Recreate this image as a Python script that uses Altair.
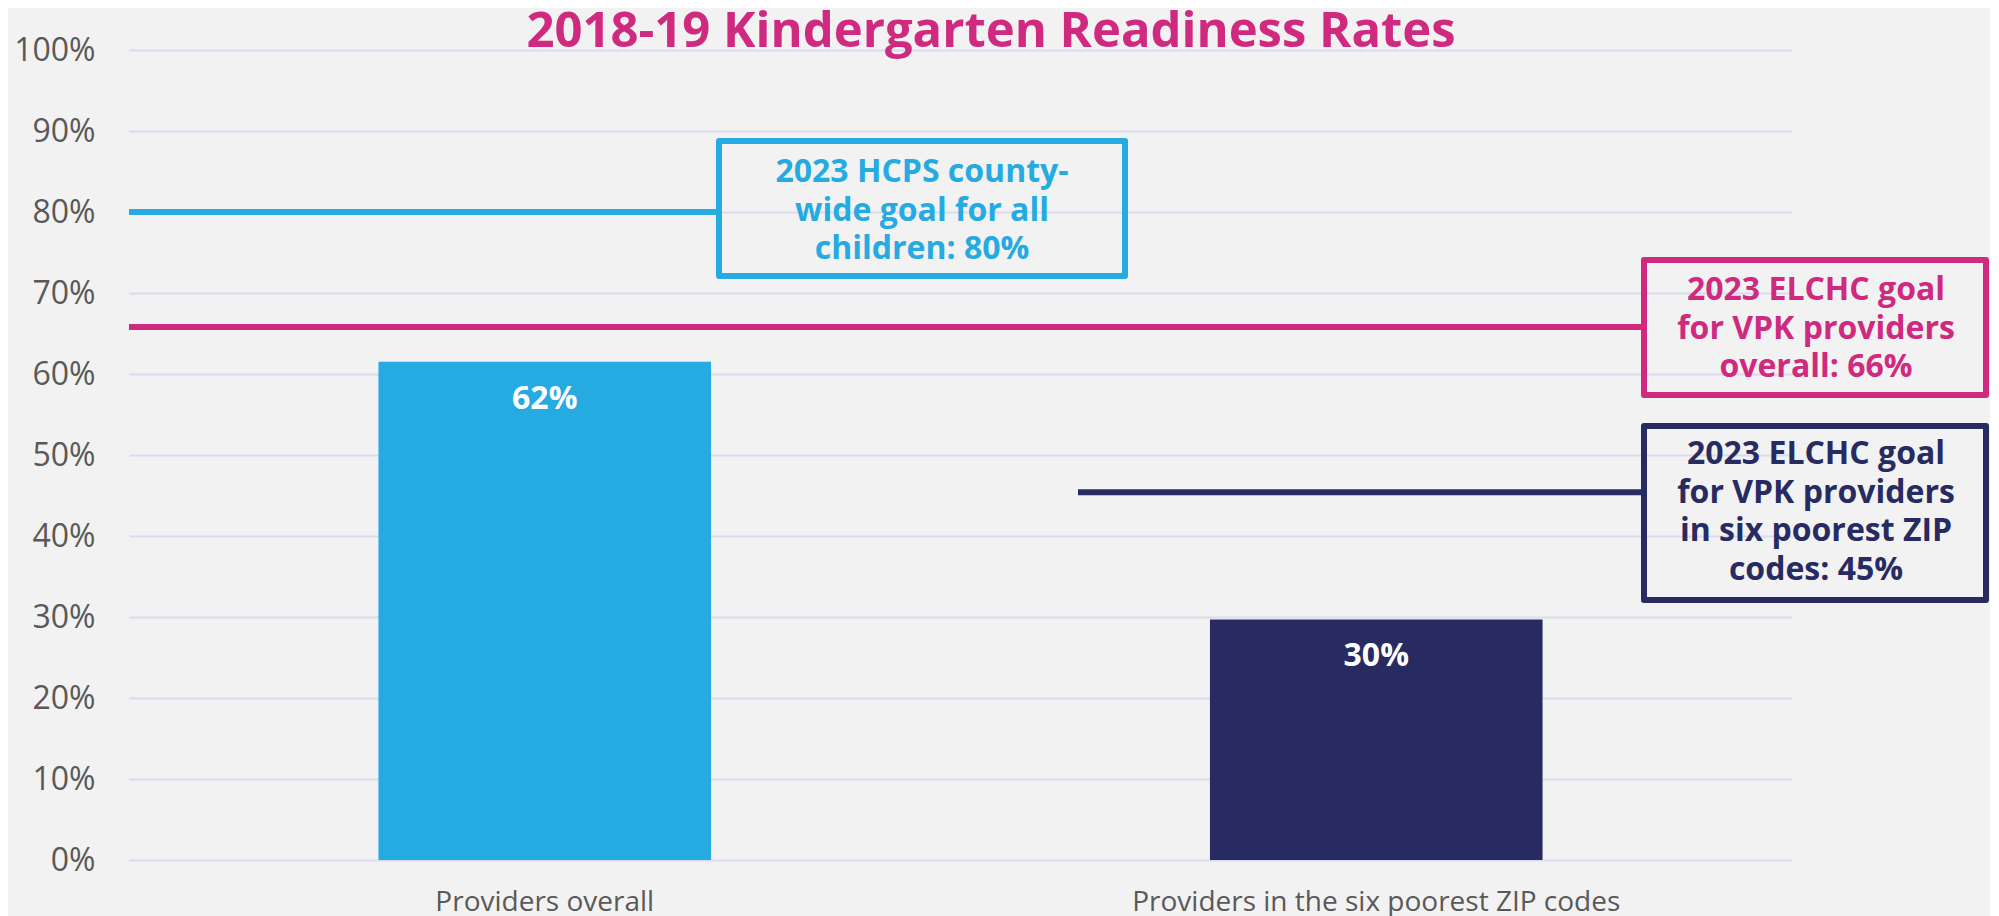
import altair as alt
import pandas as pd

# ---------------- data ----------------
title_text = "2018-19 Kindergarten Readiness Rates"
categories = ["Providers overall", "Providers in the six poorest ZIP codes"]
rates = [61.5, 29.7]
rate_labels = ["62%", "30%"]
bar_colors = ["#25AAE1", "#282B62"]

goal_values = [80, 65.8, 45.4]
goal_texts = [
    ["2023 HCPS county-", "wide goal for all", "children: 80%"],
    ["2023 ELCHC goal", "for VPK providers", "overall: 66%"],
    ["2023 ELCHC goal", "for VPK providers", "in six poorest ZIP", "codes: 45%"],
]
goal_colors = ["#25AAE1", "#CF2A80", "#282B62"]
y_ticks = list(range(0, 101, 10))

# ---------------- styling / layout ----------------
BG = "#F2F2F2"
GRAY = "#595959"
MAGENTA = "#CF2A80"
FONT = "Open Sans"
W, H = 1663, 810

rule_px = [(0, 587), (0, 1512), (949, 1512)]
box_px = [(590, 996, 91, 226), (1515, 1857, 210, 345), (1515, 1857, 376, 550)]
text_px = [(793, 132), (1687, 250), (1687, 414)]

bars_df = pd.DataFrame({"category": categories, "rate": rates,
                        "label": rate_labels, "color": bar_colors})

y_scale = alt.Scale(domain=[0, 100], nice=False)
x_scale = alt.Scale(paddingInner=0.6, paddingOuter=0.3)

x_axis = alt.Axis(title=None, labelAngle=0, labelFontSize=28,
                  labelColor=GRAY, labelFont=FONT, labelPadding=28,
                  domain=False, ticks=False, labelLimit=0, grid=False)
y_axis = alt.Axis(title=None, values=y_ticks,
                  labelExpr="datum.value + '%'", labelFontSize=32,
                  labelColor=GRAY, labelFont=FONT, labelPadding=34,
                  domain=False, ticks=False, grid=True,
                  gridColor="#DADAF0", gridWidth=2)

bars = alt.Chart(bars_df).mark_bar().encode(
    x=alt.X("category:N", sort=categories, scale=x_scale, axis=x_axis),
    y=alt.Y("rate:Q", scale=y_scale, axis=y_axis),
    color=alt.Color("color:N", scale=None),
)

bar_text = alt.Chart(bars_df).mark_text(
    dy=47, baseline="alphabetic", align="center", font=FONT,
    fontWeight="bold", fontSize=32, color="white",
).encode(
    x=alt.X("category:N", sort=categories, scale=x_scale, axis=x_axis),
    y=alt.Y("rate:Q", scale=y_scale, axis=y_axis),
    text="label:N",
)

layers = [bars, bar_text]

for g, c, (x0, x1) in zip(goal_values, goal_colors, rule_px):
    layers.append(
        alt.Chart(pd.DataFrame({"rate": [g]})).mark_rule(
            color=c, strokeWidth=6
        ).encode(
            y=alt.Y("rate:Q", scale=y_scale, axis=y_axis),
            x=alt.value(x0), x2=alt.value(x1),
        )
    )

for c, (x0, x1, y0, y1) in zip(goal_colors, box_px):
    layers.append(
        alt.Chart(pd.DataFrame({"k": [0]})).mark_rect(
            fill=BG, fillOpacity=0, stroke=c, strokeWidth=6, strokeJoin="round"
        ).encode(
            x=alt.value(x0), x2=alt.value(x1),
            y=alt.value(y0), y2=alt.value(y1),
        )
    )

for lines, c, (cx, cy) in zip(goal_texts, goal_colors, text_px):
    layers.append(
        alt.Chart(pd.DataFrame({"t": ["\n".join(lines)]})).mark_text(
            lineBreak="\n", align="center", baseline="alphabetic", font=FONT,
            fontWeight="bold", fontSize=32, lineHeight=38.5, color=c,
        ).encode(text="t:N", x=alt.value(cx), y=alt.value(cy))
    )

layers.append(
    alt.Chart(pd.DataFrame({"t": [title_text]})).mark_text(
        align="center", baseline="alphabetic", font=FONT, fontWeight="bold",
        fontSize=49, color=MAGENTA,
    ).encode(text="t:N", x=alt.value(862), y=alt.value(-3.3))
)

chart = alt.layer(*layers).properties(
    width=W, height=H,
    autosize=alt.AutoSizeParams(type="none"),
    padding={"left": 121, "top": 42, "right": 198, "bottom": 60},
    background=BG,
).configure_view(strokeWidth=0)

chart.save("out.html", embed_options={"renderer": "svg", "actions": False})
